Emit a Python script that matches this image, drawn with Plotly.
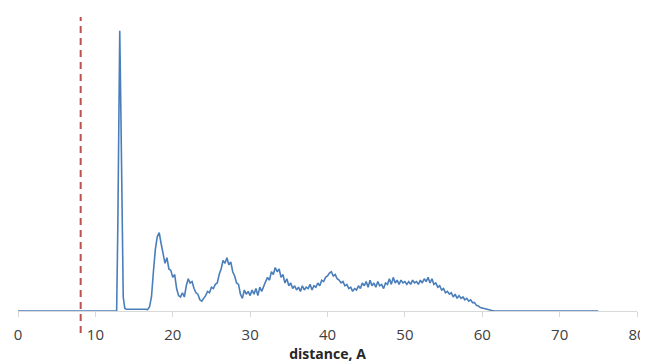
import plotly.graph_objects as go

# Sharp peak and flat baseline before the broad distribution
head_distance = [0, 12.75, 12.9, 13.0, 13.15, 13.3, 13.45, 13.6, 13.8, 14.0, 16.5]
head_density = [0, 0, 30, 75, 100, 70, 25, 5, 1, 0.6, 0.6]

# Broad noisy distribution, sampled every 0.25 from 16.75
broad_start = 16.75
broad_step = 0.25
broad_density = [
    0.5, 1.5, 5, 14, 22, 26.5, 28, 24, 21, 17, 19, 15, 14.5, 12, 13, 8, 5.5, 5, 6.5, 5,
    9, 11.5, 10, 10.5, 8, 6.5, 6, 4, 3.5, 4.5, 5.5, 7, 6.5, 8.5, 8, 9.5, 10, 13, 15, 18,
    17, 19, 16.5, 17.5, 14, 12.5, 10, 9.5, 6, 4.5, 7.5, 6, 7, 5.5, 7.5, 6, 8, 5.5, 8.5, 7,
    9, 10.5, 12, 11, 14, 13, 15.5, 14, 15, 12, 13, 10, 11.5, 9, 10, 8, 9, 7.5, 8.5, 7,
    9, 7.5, 8.5, 8, 9.5, 7.5, 9, 8.5, 10, 9, 11, 10.5, 12, 12.5, 13.5, 14, 12.5, 13, 11.5, 11,
    10, 10.5, 9, 9.5, 8, 8.5, 7, 8, 7.5, 9, 8, 10, 9, 10.5, 8.5, 11, 9, 10, 8.5, 10.5,
    9, 9.5, 8, 10, 9.5, 11.5, 9.5, 12, 10, 11, 9.5, 11, 10, 10.5, 9.5, 10.5, 9.5, 11, 10, 10.5,
    9.5, 11, 10, 11.5, 10.5, 12, 10, 11.5, 9.5, 10, 8.5, 9, 7.5, 8, 6.5, 7, 6, 6.5, 5, 6,
    4.5, 5.5, 4.5, 5, 4, 4.5, 3.5, 4, 3, 3, 2, 1.8, 1.2, 1.0, 0.8, 0.6, 0.5, 0.3, 0.2, 0.1,
    0.05, 0,
]
broad_distance = [round(broad_start + broad_step * i, 2) for i in range(len(broad_density))]

tail_distance = [75]
tail_density = [0]

distance = head_distance + broad_distance + tail_distance
density = head_density + broad_density + tail_density

cutoff_distance = 8.1

x_ticks = [0, 10, 20, 30, 40, 50, 60, 70, 80]

fig = go.Figure()
fig.add_trace(go.Scatter(
    x=distance, y=density, mode="lines",
    line=dict(color="#4a7ebb", width=1.6),
    showlegend=False, hoverinfo="skip",
))

fig.add_shape(
    type="line", xref="x", yref="paper",
    x0=cutoff_distance, x1=cutoff_distance, y0=-0.075, y1=1.0,
    line=dict(color="#c0504d", width=2, dash="7px,5px"),
)

# page body has an 8px margin: figure is 640x355 placed at (8, 8)
fig.update_layout(
    width=640, height=355,
    margin=dict(l=10, r=11, t=9, b=52),
    plot_bgcolor="white", paper_bgcolor="white",
    font=dict(family="Open Sans, Liberation Sans, sans-serif", size=14, color="#404040"),
    xaxis=dict(
        range=[0, 80], tickvals=x_ticks, ticktext=[str(v) for v in x_ticks],
        showgrid=False, zeroline=False, automargin=False,
        showline=True, linecolor="#d9d9d9", linewidth=1,
        ticks="outside", ticklen=5, tickcolor="#d9d9d9",
        ticklabelstandoff=5,
        tickfont=dict(size=15, color="#404040"),
        title=dict(text="<b>distance, A</b>", font=dict(size=14, color="#262626"), standoff=3),
    ),
    yaxis=dict(
        range=[0, 104.9], visible=False, showgrid=False, zeroline=False, automargin=False,
    ),
)

fig.write_html("out.html")
